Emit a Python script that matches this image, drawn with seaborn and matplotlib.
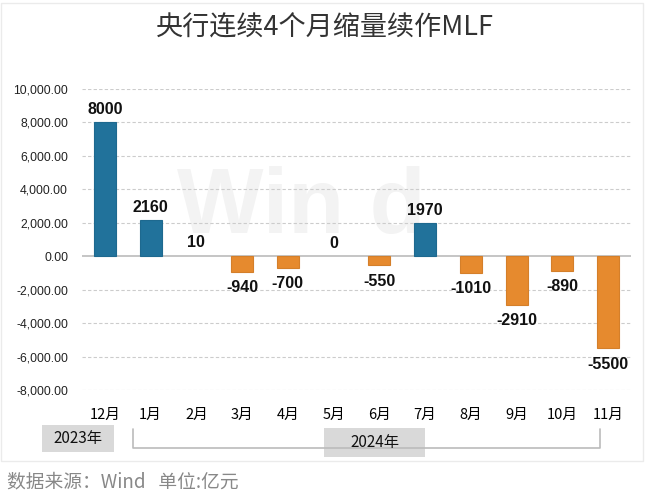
import matplotlib
matplotlib.use("Agg")
import matplotlib.pyplot as plt
import seaborn as sns
import pandas as pd
from matplotlib.patches import Rectangle
from matplotlib.lines import Line2D
from matplotlib.ticker import FuncFormatter

months = ["12月", "1月", "2月", "3月", "4月", "5月", "6月", "7月", "8月", "9月", "10月", "11月"]
values = [8000, 2160, 10, -940, -700, 0, -550, 1970, -1010, -2910, -890, -5500]
year_labels = ["2023年", "2024年"]
title = "央行连续4个月缩量续作MLF"
footer = "数据来源：Wind   单位:亿元"

BLUE = "#21729B"
ORANGE = "#E68A2E"

sns.set_theme(style="white")
plt.rcParams["font.family"] = ["Noto Sans CJK SC", "DejaVu Sans"]

df = pd.DataFrame({"month": months, "value": values})
df["sign"] = ["pos" if v >= 0 else "neg" for v in values]

W, H = 649, 495
fig = plt.figure(figsize=(W / 100, H / 100), dpi=100)
fig.patch.set_facecolor("white")

def fx(px):
    return px / W

def fy(py):
    return 1 - py / H

ax = fig.add_axes([fx(82), fy(390), fx(631) - fx(82), fy(89) - fy(390)])
ax.set_facecolor("none")

# watermark
ax.text(0.4, 0.6, "Win d", transform=ax.transAxes, ha="center", va="center",
        fontsize=66, fontweight="bold", color="#f3f3f3", family="Liberation Sans", zorder=0)

sns.barplot(data=df, x="month", y="value", hue="sign",
            palette={"pos": BLUE, "neg": ORANGE}, dodge=False, width=0.48,
            saturation=1, legend=False, ax=ax, zorder=3, linewidth=0,
            edgecolor="none")
for p in ax.patches:
    if abs(p.get_height()) > 50:
        fc = p.get_facecolor()
        p.set_edgecolor(tuple(c * 0.92 for c in fc[:3]))
        p.set_linewidth(0.8)

ax.set_ylim(-8000, 10000)
ax.set_xlim(-0.5, len(months) - 0.5)
ticks = list(range(-8000, 10001, 2000))
ax.set_yticks(ticks)
ax.yaxis.set_major_formatter(FuncFormatter(lambda v, _: f"{v:,.2f}"))
for t in ticks:
    if t == 0:
        continue
    ax.axhline(t, color="#cccccc", lw=0.8, ls=(0, (3, 2)), zorder=1)
ax.axhline(0, color="#bbbbbb", lw=1.2, zorder=2)

for s in ax.spines.values():
    s.set_visible(False)
ax.tick_params(axis="y", length=0, pad=10, labelsize=8.8, labelcolor="#222222")
ax.tick_params(axis="x", length=0, pad=13, labelsize=10.5, labelcolor="#000000")
for lab in ax.get_yticklabels():
    lab.set_family("Liberation Sans")
ax.set_xlabel("")
ax.set_ylabel("")

for i, v in enumerate(values):
    if v >= 0:
        ax.annotate(f"{v}", (i, v), xytext=(0, 4), textcoords="offset points",
                    ha="center", va="bottom", fontsize=11.5, fontweight="bold",
                    family="Liberation Sans", color="#111111", zorder=4)
    else:
        ax.annotate(f"{v}", (i, v), xytext=(0, -6), textcoords="offset points",
                    ha="center", va="top", fontsize=11.5, fontweight="bold",
                    family="Liberation Sans", color="#111111", zorder=4)

# title
fig.text(0.5, fy(28), title, ha="center", va="center", fontsize=19.5,
         fontweight="light", color="#333333")

# chart border
fig.add_artist(Rectangle((fx(1), fy(461)), fx(643) - fx(1), fy(3) - fy(461),
                         transform=fig.transFigure, fill=False, edgecolor="#ebebeb", lw=1))

# year bracket
bl = dict(color="#bbbbbb", lw=1.2, transform=fig.transFigure)
fig.add_artist(Line2D([fx(133), fx(133), fx(600), fx(600)], [fy(429), fy(448), fy(448), fy(429)], **bl))

# year boxes
fig.add_artist(Rectangle((fx(42), fy(452)), fx(114) - fx(42), fy(425) - fy(452),
                         transform=fig.transFigure, facecolor="#d9d9d9", edgecolor="none"))
fig.text(fx(78), fy(438.5), year_labels[0], ha="center", va="center", fontsize=11, color="#111111")
fig.add_artist(Rectangle((fx(324), fy(457)), fx(425) - fx(324), fy(428) - fy(457),
                         transform=fig.transFigure, facecolor="#d9d9d9", edgecolor="none"))
fig.text(fx(374.5), fy(442.5), year_labels[1], ha="center", va="center", fontsize=11, color="#111111")

# footer
fig.text(fx(7), fy(482), footer, ha="left", va="center", fontsize=13.5, color="#888888")

fig.savefig("out.png", dpi=100, facecolor="white")
